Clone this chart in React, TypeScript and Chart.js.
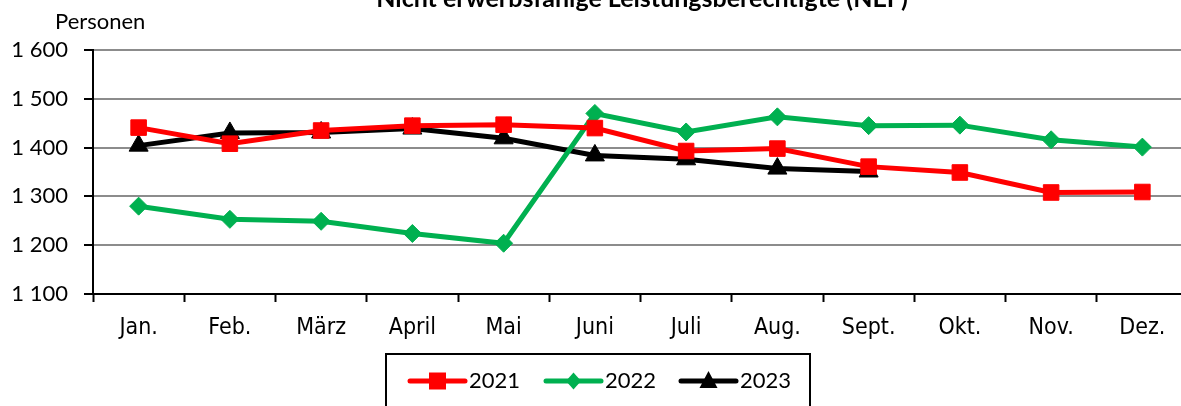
import React, { useEffect, useRef } from "react";
import { Chart, registerables } from "chart.js";

Chart.register(...registerables);

const TITLE = "Nicht erwerbsfähige Leistungsberechtigte (NEF)";
const UNIT_LABEL = "Personen";
const MONTHS = ["Jan.", "Feb.", "März", "April", "Mai", "Juni", "Juli", "Aug.", "Sept.", "Okt.", "Nov.", "Dez."];
const SERIES_LABELS = ["2021", "2022", "2023"];
const VALUES_2021 = [1441, 1408, 1435, 1445, 1447, 1440, 1393, 1398, 1361, 1349, 1308, 1309];
const VALUES_2022 = [1280, 1253, 1249, 1224, 1204, 1470, 1432, 1463, 1445, 1446, 1416, 1401];
const VALUES_2023 = [1404, 1430, 1431, 1439, 1419, 1384, 1376, 1357, 1351, null, null, null];
const Y_MIN = 1100;
const Y_MAX = 1600;
const Y_STEP = 100;

const RED = "#FF0000";
const GREEN = "#00B050";
const BLACK = "#000000";

const fmt = (v: number) => {
  const th = Math.floor(v / 1000);
  const rest = String(Math.round(v % 1000)).padStart(3, "0");
  return th > 0 ? `${th} ${rest}` : String(v);
};

const textPlugin = {
  id: "extraText",
  afterDraw(chart: any) {
    const ctx = chart.ctx as CanvasRenderingContext2D;
    ctx.save();
    // title (partially cut at top)
    ctx.fillStyle = "#000";
    ctx.font = "bold 25px Lato";
    ctx.textAlign = "center";
    ctx.textBaseline = "alphabetic";
    ctx.fillText(TITLE, 642, 7);
    // unit label
    ctx.font = "22px Lato";
    ctx.textAlign = "left";
    ctx.fillText(UNIT_LABEL, 55, 29);

    // legend box
    ctx.strokeStyle = "#000";
    ctx.lineWidth = 2;
    ctx.strokeRect(386, 354, 424, 80);
    const startX = [410, 546, 681];
    const cy = 381;
    chart.data.datasets.forEach((ds: any, i: number) => {
      const x0 = startX[i];
      const color = ds.borderColor;
      ctx.strokeStyle = color;
      ctx.fillStyle = color;
      ctx.lineWidth = 5;
      ctx.lineCap = "round";
      ctx.beginPath();
      ctx.moveTo(x0, cy);
      ctx.lineTo(x0 + 55, cy);
      ctx.stroke();
      const mx = x0 + 27.5;
      ctx.beginPath();
      if (ds.pointStyle === "rect") {
        ctx.rect(mx - 8.5, cy - 8.5, 17, 17);
      } else if (ds.pointStyle === "rectRot") {
        ctx.moveTo(mx, cy - 8.5);
        ctx.lineTo(mx + 7.5, cy);
        ctx.lineTo(mx, cy + 8.5);
        ctx.lineTo(mx - 7.5, cy);
        ctx.closePath();
      } else {
        ctx.moveTo(mx, cy - 10);
        ctx.lineTo(mx + 9, cy + 7);
        ctx.lineTo(mx - 9, cy + 7);
        ctx.closePath();
      }
      ctx.fill();
      ctx.fillStyle = "#000";
      ctx.font = "22px Lato";
      ctx.textAlign = "left";
      ctx.textBaseline = "middle";
      ctx.fillText(ds.label, x0 + 59, cy);
    });
    ctx.restore();
  },
};

export default function App() {
  const ref = useRef<HTMLCanvasElement | null>(null);

  useEffect(() => {
    if (!ref.current) return;
    const chart = new Chart(ref.current, {
      type: "line",
      data: {
        labels: MONTHS,
        datasets: [
          {
            label: SERIES_LABELS[0],
            data: VALUES_2021,
            borderColor: RED,
            backgroundColor: RED,
            borderWidth: 5,
            pointStyle: "rect",
            pointRadius: 11,
            pointBorderWidth: 1,
            pointBackgroundColor: RED,
            pointBorderColor: RED,
            tension: 0,
          },
          {
            label: SERIES_LABELS[1],
            data: VALUES_2022,
            borderColor: GREEN,
            backgroundColor: GREEN,
            borderWidth: 5,
            pointStyle: "rectRot",
            pointRadius: 9,
            pointBorderWidth: 1,
            pointBackgroundColor: GREEN,
            pointBorderColor: GREEN,
            tension: 0,
          },
          {
            label: SERIES_LABELS[2],
            data: VALUES_2023,
            borderColor: BLACK,
            backgroundColor: BLACK,
            borderWidth: 5,
            pointStyle: "triangle",
            pointRadius: 11,
            pointBorderWidth: 1,
            pointBackgroundColor: BLACK,
            pointBorderColor: BLACK,
            tension: 0,
            spanGaps: false,
          },
        ],
      },
      options: {
        animation: false,
        responsive: false,
        devicePixelRatio: 1,
        layout: { padding: { top: 50, right: 4, left: 0, bottom: 0 } },
        plugins: {
          legend: { display: false },
          title: { display: false },
          tooltip: { enabled: false },
        },
        scales: {
          x: {
            type: "category",
            offset: true,
            grid: {
              offset: true,
              drawOnChartArea: false,
              drawTicks: true,
              tickLength: 8,
              tickColor: "#000",
              tickWidth: 2,
            },
            border: { display: true, color: "#000", width: 2 },
            ticks: {
              color: "#000",
              font: { family: "DejaVu Sans Condensed", size: 23 },
              padding: 12,
              maxRotation: 0,
              autoSkip: false,
            },
            afterFit: (scale: any) => {
              scale.height = 112;
            },
          },
          y: {
            min: Y_MIN,
            max: Y_MAX,
            grid: {
              color: (c: any) => (c.tick && c.tick.value === Y_MIN ? "rgba(0,0,0,0)" : "#8c8c8c"),
              lineWidth: 2,
              drawTicks: true,
              tickLength: 9,
              tickColor: "#000",
              tickWidth: 2,
            },
            border: { display: true, color: "#000", width: 2 },
            ticks: {
              stepSize: Y_STEP,
              color: "#000",
              font: { family: "Lato", size: 22 },
              padding: 16,
              callback: (v: any) => fmt(Number(v)),
            },
            afterFit: (scale: any) => {
              scale.width = 93;
            },
          },
        },
      },
      plugins: [textPlugin],
    });
    return () => chart.destroy();
  }, []);

  return (
    <div
      style={{
        position: "fixed",
        left: 0,
        top: 0,
        width: 1181,
        height: 406,
        overflow: "hidden",
        background: "#fff",
      }}
    >
      <canvas ref={ref} width={1200} height={406} style={{ display: "block" }} />
    </div>
  );
}
